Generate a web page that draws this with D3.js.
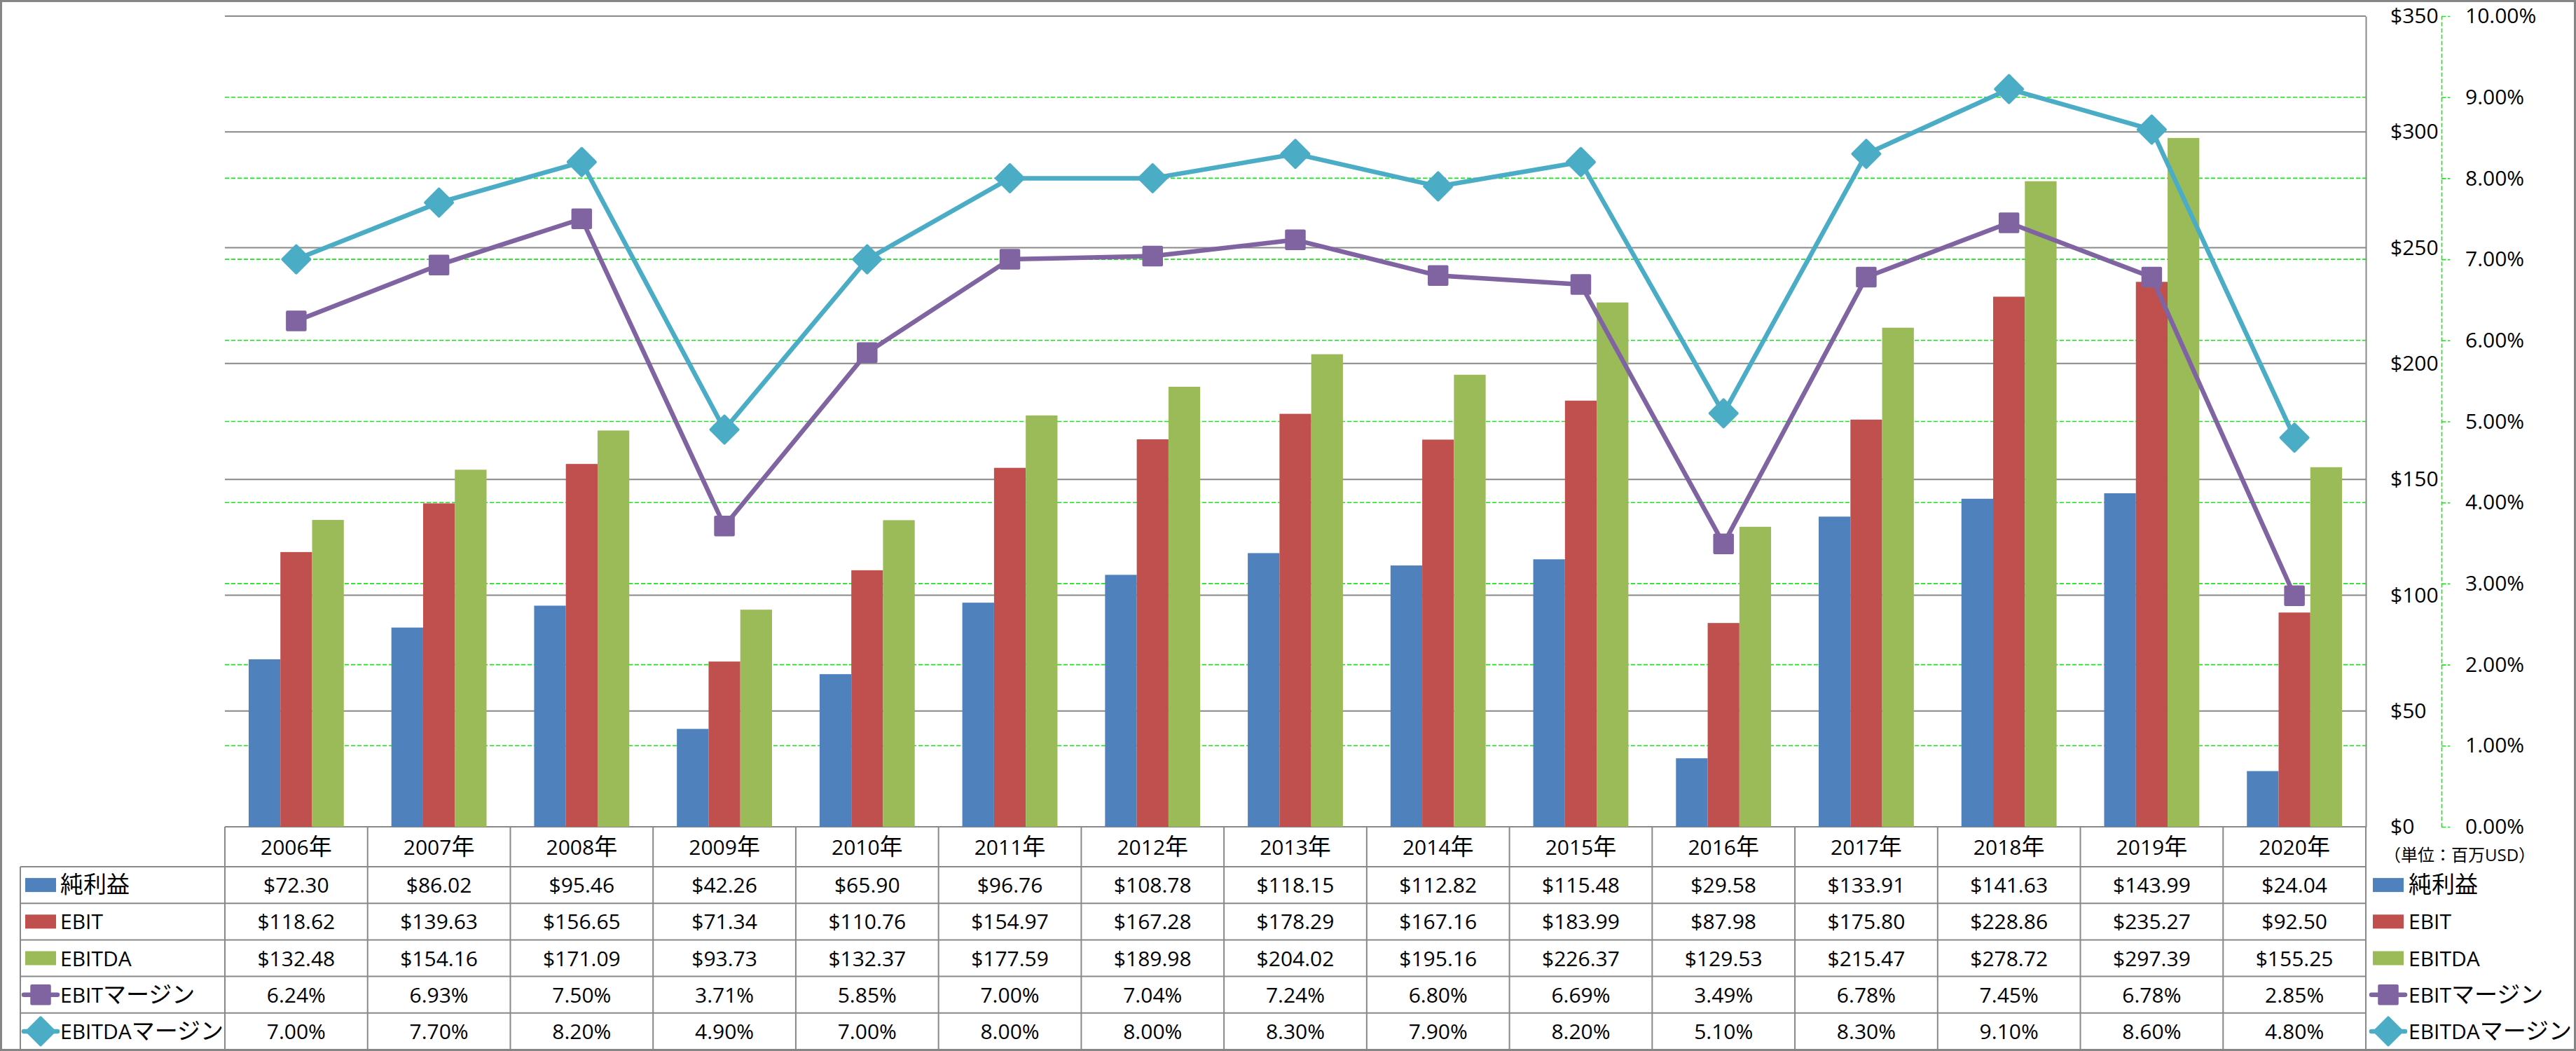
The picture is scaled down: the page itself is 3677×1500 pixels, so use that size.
<!DOCTYPE html>
<html><head><meta charset="utf-8">
<script src="https://cdn.jsdelivr.net/npm/d3@7"></script>
<style>
html,body{margin:0;padding:0;background:#fff;}
svg{display:block;}
text{font-family:"Open Sans","Noto Sans CJK JP",sans-serif;fill:#000;}
</style></head><body>
<svg id="chart" width="3677" height="1500"></svg>
<script>
// ---------- data ----------
const years = ["2006年","2007年","2008年","2009年","2010年","2011年","2012年","2013年","2014年","2015年","2016年","2017年","2018年","2019年","2020年"];
const netIncome   = [72.30, 86.02, 95.46, 42.26, 65.90, 96.76, 108.78, 118.15, 112.82, 115.48, 29.58, 133.91, 141.63, 143.99, 24.04];
const ebit        = [118.62, 139.63, 156.65, 71.34, 110.76, 154.97, 167.28, 178.29, 167.16, 183.99, 87.98, 175.80, 228.86, 235.27, 92.50];
const ebitda      = [132.48, 154.16, 171.09, 93.73, 132.37, 177.59, 189.98, 204.02, 195.16, 226.37, 129.53, 215.47, 278.72, 297.39, 155.25];
const ebitMargin  = [6.24, 6.93, 7.50, 3.71, 5.85, 7.00, 7.04, 7.24, 6.80, 6.69, 3.49, 6.78, 7.45, 6.78, 2.85];
const ebitdaMargin= [7.00, 7.70, 8.20, 4.90, 7.00, 8.00, 8.00, 8.30, 7.90, 8.20, 5.10, 8.30, 9.10, 8.60, 4.80];
const dollarTicks = [0, 50, 100, 150, 200, 250, 300, 350];
const percentTicks = [0, 1, 2, 3, 4, 5, 6, 7, 8, 9, 10];
const barSeriesNames = ["純利益", "EBIT", "EBITDA"];
const lineSeriesNames = ["EBITマージン", "EBITDAマージン"];
const unitLabel = "（単位：百万USD）";

// ---------- styles / layout ----------
const W = 3677, H = 1500;
const plot = {left: 321, right: 3377, top: 23, bottom: 1180};
const barColors = ["#4F81BD", "#C0504D", "#9BBB59"];
const lineColors = ["#8064A2", "#4BACC6"];
const gridGray = "#898989";
const dashGreen = "#19E619";
const headerH = 57, rowH = 52.2;
const labelColLeft = 29;
const latinSize = 30, cjkSize = 33;

const svg = d3.select("#chart");

const x = d3.scaleBand().domain(years).range([plot.left, plot.right]).padding(0);
const xs = d3.scaleBand().domain(barSeriesNames).range([0, x.bandwidth()]).paddingInner(0).paddingOuter(0.75);
const yL = d3.scaleLinear().domain([0, 350]).range([plot.bottom, plot.top]);
const yR = d3.scaleLinear().domain([0, 10]).range([plot.bottom, plot.top]);

const cjkRe = /([\u3000-\u30ff\u4e00-\u9fff\uff00-\uffef]+)/;
function rich(t, str, ls, cs) {
  str.split(cjkRe).filter(s => s.length).forEach(part => {
    t.append("tspan").attr("font-size", cjkRe.test(part) ? cs : ls).text(part);
  });
  return t;
}

// green dashed gridlines (secondary axis)
svg.append("g").selectAll("line").data(percentTicks.filter(d => d > 0 && d < 10)).join("line")
  .attr("x1", plot.left).attr("x2", plot.right)
  .attr("y1", d => yR(d)).attr("y2", d => yR(d))
  .attr("stroke", dashGreen).attr("stroke-width", 1.6).attr("stroke-dasharray", "6,3");

// gray gridlines (primary axis)
svg.append("g").selectAll("line").data(dollarTicks).join("line")
  .attr("x1", plot.left).attr("x2", plot.right)
  .attr("y1", d => yL(d)).attr("y2", d => yL(d))
  .attr("stroke", gridGray).attr("stroke-width", 2);

// bars
const barData = [netIncome, ebit, ebitda];
const groups = svg.append("g").selectAll("g").data(years).join("g")
  .attr("transform", d => `translate(${x(d)},0)`);
groups.selectAll("rect").data((d, i) => barData.map((s, k) => ({name: barSeriesNames[k], v: s[i], k})))
  .join("rect")
  .attr("x", d => xs(d.name)).attr("width", xs.bandwidth())
  .attr("y", d => yL(d.v)).attr("height", d => yL(0) - yL(d.v))
  .attr("fill", d => barColors[d.k]);

// lines
const lineData = [ebitMargin, ebitdaMargin];
const cx = i => x(years[i]) + x.bandwidth() / 2;
const lineGen = d3.line().x((d, i) => cx(i)).y(d => yR(d));
lineData.forEach((s, k) => {
  svg.append("path").datum(s).attr("d", lineGen)
    .attr("fill", "none").attr("stroke", lineColors[k]).attr("stroke-width", 6.5)
    .attr("stroke-linejoin", "round").attr("stroke-linecap", "round");
});
const squareSym = d3.symbol(d3.symbolSquare, 650);
const diamondSym = d3.symbol(d3.symbolSquare, 760);
function marker(sel, k) {
  return sel.append("path")
    .attr("d", k === 0 ? squareSym() : diamondSym())
    .attr("fill", lineColors[k]).attr("stroke", lineColors[k])
    .attr("stroke-width", 4).attr("stroke-linejoin", "round");
}
lineData.forEach((s, k) => {
  s.forEach((v, i) => {
    marker(svg, k).attr("transform", `translate(${cx(i)},${yR(v)})` + (k === 1 ? " rotate(45)" : ""));
  });
});

// primary axis ($) on the right
const axL = svg.append("g").attr("transform", `translate(${plot.right},0)`)
  .call(d3.axisRight(yL).tickValues(dollarTicks).tickSize(0).tickSizeOuter(0).tickPadding(35).tickFormat(d => "$" + d));
axL.select(".domain").attr("stroke", gridGray).attr("stroke-width", 2);
axL.selectAll("text").attr("font-size", latinSize).attr("font-family", "Open Sans").attr("fill", "#000");

// secondary axis (%)
const axR = svg.append("g").attr("transform", "translate(3485,0)")
  .call(d3.axisRight(yR).tickValues(percentTicks).tickSize(12).tickSizeOuter(0).tickPadding(22).tickFormat(d => d.toFixed(2) + "%"));
axR.select(".domain").attr("stroke", dashGreen).attr("stroke-width", 1.6).attr("stroke-dasharray", "6,3");
axR.selectAll(".tick line").attr("stroke", dashGreen).attr("stroke-width", 1.6).attr("stroke-dasharray", "6,3");
axR.selectAll("text").attr("font-size", latinSize).attr("font-family", "Open Sans").attr("fill", "#000");

// ---------- data table ----------
const tbl = svg.append("g");
const rowTops = d3.range(6).map(r => plot.bottom + headerH + r * rowH);
// horizontal lines
tbl.selectAll("line.h").data(rowTops).join("line").attr("class", "h")
  .attr("x1", labelColLeft).attr("x2", plot.right)
  .attr("y1", d => d).attr("y2", d => d)
  .attr("stroke", gridGray).attr("stroke-width", 2);
// vertical lines
const colEdges = years.map(y => x(y)).concat([plot.right]);
tbl.selectAll("line.v").data(colEdges).join("line").attr("class", "v")
  .attr("x1", d => d).attr("x2", d => d)
  .attr("y1", plot.bottom).attr("y2", rowTops[5])
  .attr("stroke", gridGray).attr("stroke-width", 2);
tbl.append("line").attr("x1", labelColLeft).attr("x2", labelColLeft)
  .attr("y1", rowTops[0]).attr("y2", rowTops[5]).attr("stroke", gridGray).attr("stroke-width", 2);

// header years
years.forEach(y => {
  rich(tbl.append("text").attr("x", x(y) + x.bandwidth() / 2).attr("y", plot.bottom + headerH / 2 + 11)
    .attr("text-anchor", "middle"), y, latinSize, cjkSize);
});
// rows
const rowSeries = [
  {name: barSeriesNames[0], vals: netIncome, fmt: v => "$" + v.toFixed(2), type: "bar", k: 0},
  {name: barSeriesNames[1], vals: ebit, fmt: v => "$" + v.toFixed(2), type: "bar", k: 1},
  {name: barSeriesNames[2], vals: ebitda, fmt: v => "$" + v.toFixed(2), type: "bar", k: 2},
  {name: lineSeriesNames[0], vals: ebitMargin, fmt: v => v.toFixed(2) + "%", type: "line", k: 0},
  {name: lineSeriesNames[1], vals: ebitdaMargin, fmt: v => v.toFixed(2) + "%", type: "line", k: 1}
];
function legendSymbol(g, s, sx, cy) {
  if (s.type === "bar") {
    g.append("rect").attr("x", sx).attr("y", cy - 10).attr("width", 44).attr("height", 20).attr("fill", barColors[s.k]);
  } else {
    g.append("line").attr("x1", sx - 2).attr("x2", sx + 46).attr("y1", cy).attr("y2", cy)
      .attr("stroke", lineColors[s.k]).attr("stroke-width", 6.5).attr("stroke-linecap", "round");
    marker(g, s.k).attr("transform", `translate(${sx + 22},${cy})` + (s.k === 1 ? " rotate(45)" : ""));
  }
}
rowSeries.forEach((s, r) => {
  const cy = rowTops[r] + rowH / 2;
  s.vals.forEach((v, i) => {
    tbl.append("text").attr("x", cx(i)).attr("y", cy + 11).attr("text-anchor", "middle")
      .attr("font-size", latinSize).text(s.fmt(v));
  });
  // label column
  legendSymbol(tbl, s, 36, cy);
  rich(tbl.append("text").attr("x", 86).attr("y", cy + 11), s.name, latinSize, cjkSize);
  // right legend
  legendSymbol(svg, s, 3387, cy);
  rich(svg.append("text").attr("x", 3438).attr("y", cy + 11), s.name, latinSize, cjkSize);
});

// unit label
svg.append("text").attr("x", 3403).attr("y", 1229).attr("font-family", "Noto Sans CJK JP")
  .attr("font-size", 24).text(unitLabel);

// outer frame
svg.append("rect").attr("x", 1.5).attr("y", 1.5).attr("width", W - 3).attr("height", H - 3)
  .attr("fill", "none").attr("stroke", "#868686").attr("stroke-width", 3);
</script>
</body></html>
